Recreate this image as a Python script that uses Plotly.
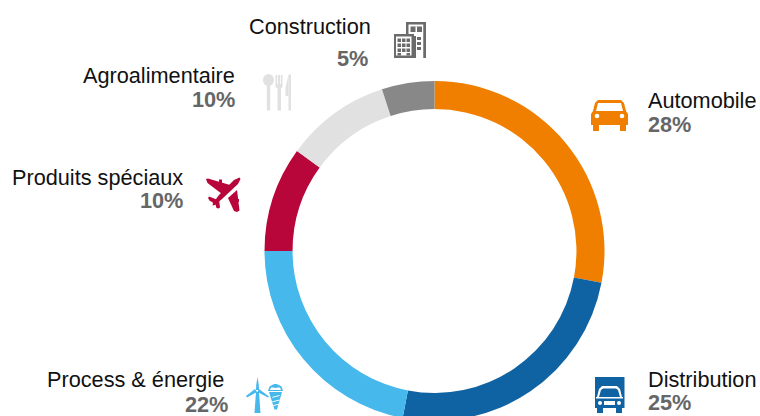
import plotly.graph_objects as go

W, H = 760, 424
sectors = ["Automobile", "Distribution", "Process & énergie", "Produits spéciaux", "Agroalimentaire", "Construction"]
shares = [28, 25, 22, 10, 10, 5]
colors = ["#F07F00", "#1063A3", "#47B8EC", "#B8063A", "#E1E1E1", "#888888"]
FONT = "Liberation Sans"

fig = go.Figure(go.Pie(
    labels=sectors, values=shares, sort=False, direction="clockwise", rotation=0,
    hole=0.835, textinfo="none", showlegend=False, hoverinfo="label+percent",
    marker=dict(colors=colors, line=dict(width=0)),
    domain=dict(x=[264.5 / W, 604.5 / W], y=[1 - 421 / H, 1 - 81 / H]),
))

labels = [
    ("Construction", "5%", 373, 26, 370, 58, "right"),
    ("Agroalimentaire", "10%", 237, 76, 237, 99, "right"),
    ("Produits spéciaux", "10%", 185, 177, 185, 200, "right"),
    ("Process & énergie", "22%", 226, 379, 230, 404, "right"),
    ("Automobile", "28%", 646, 101, 646, 124, "left"),
    ("Distribution", "25%", 646, 379, 646, 402, "left"),
]
ann = []
for name, pct, x1, y1, x2, y2, anchor in labels:
    ann.append(dict(text=name, x=x1 / W, y=1 - y1 / H, xref="paper", yref="paper", xanchor=anchor,
                    yanchor="middle", showarrow=False, font=dict(family=FONT, size=21.7, color="#111111")))
    ann.append(dict(text=f"<b>{pct}</b>", x=x2 / W, y=1 - y2 / H, xref="paper", yref="paper", xanchor=anchor,
                    yanchor="middle", showarrow=False, font=dict(family=FONT, size=21.7, color="#666666")))

shapes = []
def px(x, y):
    return f"{x / W:.5f},{1 - y / H:.5f}"
def poly(pts, color):
    p = "M" + " L".join(px(x, y) for x, y in pts) + " Z"
    shapes.append(dict(type="path", path=p, xref="paper", yref="paper", fillcolor=color, line=dict(width=0)))
def rect(x0, y0, x1, y1, color):
    poly([(x0, y0), (x1, y0), (x1, y1), (x0, y1)], color)
def circ(cx, cy, rx, ry, color):
    shapes.append(dict(type="circle", xref="paper", yref="paper", x0=(cx - rx) / W, x1=(cx + rx) / W,
                       y0=1 - (cy + ry) / H, y1=1 - (cy - ry) / H, fillcolor=color, line=dict(width=0)))

# Car
o = colors[0]
poly([(598, 100), (621, 100), (624, 103), (626, 111), (628, 114), (628, 125), (591, 125), (591, 114), (593, 111), (595, 103)], o)
rect(593, 124, 599, 131, o); rect(620, 124, 626, 131, o)
poly([(598, 103), (621, 103), (623, 111), (596, 111)], "white")
circ(597, 116, 2.3, 2.3, "white"); circ(622, 116, 2.3, 2.3, "white")

# Truck
b = colors[1]
rect(595, 377, 624.5, 408, b)
rect(597, 408, 603, 413, b); rect(616, 408, 622, 413, b)
poly([(597, 397), (599, 389), (602, 386), (617, 386), (620, 389), (622, 397), (620, 397), (618, 390), (616, 388.5), (603, 388.5), (601, 390), (599, 397)], "white")
rect(596, 397, 623, 398.5, "white")
rect(604, 401, 615, 405, "white")
circ(600, 403, 2, 2, "white"); circ(619, 403, 2, 2, "white")

# Turbine
l = colors[2]
poly([(257.5, 377), (258.8, 385), (259, 390), (256, 390), (256.2, 385)], l)
poly([(246, 396), (255, 389), (257, 392), (247, 397.5)], l)
poly([(269, 396.5), (259, 389), (257.5, 392), (268, 397.5)], l)
poly([(256, 392), (259, 392), (260.5, 413), (254.5, 413)], l)
# Screw
poly([(268, 391), (269.5, 386.5), (273, 384.5), (278, 384.5), (281.5, 386.5), (283, 391)], l)
poly([(271, 387.5), (280, 387.5), (281, 390), (270, 390)], "white")
poly([(274, 384), (277, 384), (276.5, 388), (274.5, 388)], l)
poly([(269, 392), (282, 392), (277, 409.5), (274.5, 409.5)], l)
for yy in (396, 400.5, 404.5):
    poly([(272, yy + 1), (279.5, yy - 1), (279.5, yy), (272.5, yy + 1.8)], "white")

# Plane
r = colors[3]
poly([(239.5, 177.5), (240.5, 179), (238, 184), (222, 199), (215, 205), (212.5, 205.5), (213, 203), (219, 195), (234, 180)], r)
poly([(206, 179), (208, 178.5), (230, 185), (222, 194), (207.5, 183)], r)
poly([(237, 212), (239.5, 210.5), (237, 190), (228, 198), (234, 211)], r)
poly([(208, 198), (209, 196.5), (218, 200), (215, 204), (209.5, 200.5)], r)
poly([(218.5, 208.5), (220, 207.5), (219, 199), (215, 203), (216.5, 208)], r)
rect(219, 179.5, 222, 185, r)
rect(235, 199, 239, 202, r)

# Cutlery
g = colors[4]
circ(268.5, 80, 5.5, 6, g)
rect(266.8, 84, 270.2, 110.5, g)
rect(277.5, 86, 281, 110.5, g)
poly([(275.5, 75), (282.5, 75), (282.5, 87), (279.2, 90), (275.5, 87)], g)
rect(288.5, 74.5, 291, 110.5, g)
poly([(288.5, 75), (288.5, 96), (285.5, 96), (285.5, 88)], g)
for xx in (277.5, 280.5):
    rect(xx - 0.4, 74, xx + 0.4, 84, "white")

# Building
k = "#6B6B6B"
rect(406, 22, 426, 58, k)
rect(408.5, 24.5, 423.5, 58, "white")
rect(423.5, 22, 426, 58, k)
rect(410.5, 26.5, 422, 32, k)
rect(415.5, 26.5, 417, 32, "white")
rect(394, 34, 414, 58, k)
rect(396, 36.5, 411.5, 55.5, "white")
for yy in (38.5, 43.5, 48.5):
    for xx in (397.5, 402, 406.5):
        rect(xx, yy, xx + 3.5, yy + 3.5, k)
rect(397.5, 53, 401, 55.5, k); rect(406.5, 53, 410, 55.5, k)
rect(412, 36, 416, 58, k)
rect(416, 36, 419, 39, "white")
for yy in (37, 42, 47):
    rect(417, yy, 421, yy + 3, k)

fig.update_layout(width=W, height=H, margin=dict(l=0, r=0, t=0, b=0), paper_bgcolor="white",
                  annotations=ann, shapes=shapes, showlegend=False)
fig.write_html("out.html", config=dict(displayModeBar=False),
               post_script="document.documentElement.style.overflow='hidden';document.body.style.overflow='hidden';document.body.style.margin='0';")
